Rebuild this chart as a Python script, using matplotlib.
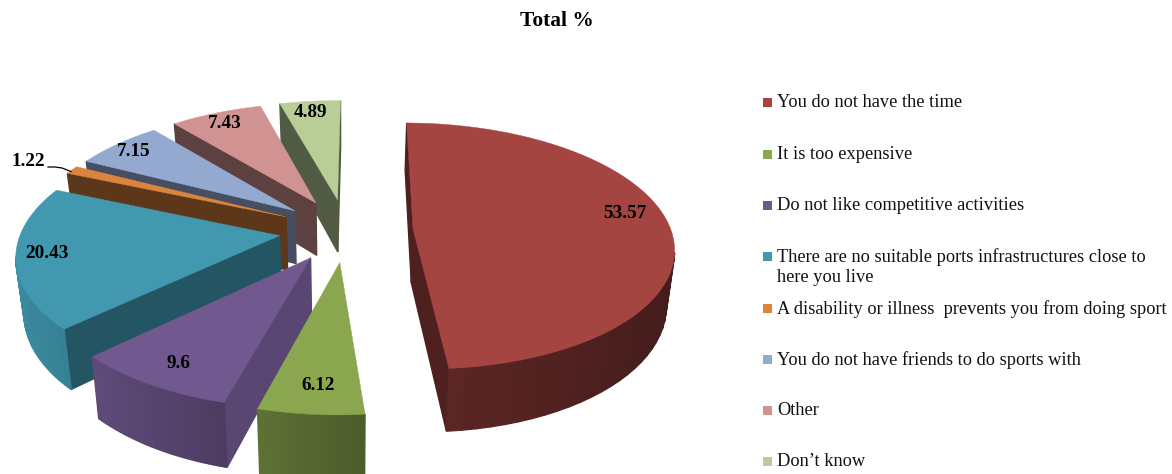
import numpy as np
import matplotlib
matplotlib.use("Agg")
import matplotlib.pyplot as plt
from matplotlib.colors import to_rgb
from matplotlib.patches import Polygon, Rectangle

plt.rcParams['font.family'] = ['Liberation Serif', 'DejaVu Serif']

labels = ["You do not have the time", "It is too expensive", "Do not like competitive activities",
          "There are no suitable ports infrastructures close to\nhere you live",
          "A disability or illness  prevents you from doing sport",
          "You do not have friends to do sports with", "Other", "Don\u2019t know"]
values = [53.57, 6.12, 9.6, 20.43, 1.22, 7.15, 7.43, 4.89]
value_text = ["53.57", "6.12", "9.6", "20.43", "1.22", "7.15", "7.43", "4.89"]
colors = ["#A54542", "#8AA64E", "#71588F", "#4198AF", "#DB843D", "#93A9CF", "#D19392", "#B9CD96"]

# how dark the straight cut side of each slice is
cut_shade = [0.47, 0.6, 0.8, 0.56, 0.42, 0.47, 0.44, 0.44]
# back slices first so the nearer ones cover them
draw_order = [7, 6, 5, 4, 3, 0, 2, 1]

value_xy = [(625, 213), (318, 385), (178, 364), (47, 254), (28, 161), (134, 151), (225, 123), (311, 112)]
legend_y = [102, 154, 205, 256, 308, 359, 410, 461]

CX, CY = 346, 230     # pie centre
RX, RY = 258, 121     # squashed radius
PERSP = 0.14
DEPTH = 54
BOTTOM_X = 0.975      # lower rim pulls in a little towards the centre

fig = plt.figure(figsize=(11.72, 4.74), dpi=100)
ax = fig.add_axes([0, 0, 1, 1])
ax.set_xlim(0, 1172)
ax.set_ylim(474, 0)
ax.axis("off")

# the flat pie gives the angles and exploded centres
pie_ax = fig.add_axes([0, 0, 0.1, 0.1])
wedges, _ = pie_ax.pie(values, explode=[0.26] * len(values), startangle=89.5, counterclock=False)
pie_ax.set_visible(False)


def project(x, y, z=0.0):
    p = 1 / (1 + PERSP * y)
    sx = x * RX * p * (BOTTOM_X if z else 1)
    return CX + sx, CY + p * (-y * RY + z * DEPTH)


def arc_shade(theta):
    n = np.cos(np.radians(theta))
    return np.interp(n, [-1, -0.7, -0.26, 0.05, 0.87, 1], [0.92, 0.84, 0.68, 0.56, 0.42, 0.42])


def darker(col, k):
    return tuple(c * k for c in to_rgb(col))


for i in draw_order:
    w = wedges[i]
    c0x, c0y = w.center
    th = np.linspace(w.theta2, w.theta1, 60)   # clockwise round the rim
    xs = c0x + w.r * np.cos(np.radians(th))
    ys = c0y + w.r * np.sin(np.radians(th))

    # ring: apex -> rim -> back to apex
    px = np.r_[c0x, xs, c0x]
    py = np.r_[c0y, ys, c0y]
    tx, ty = project(px, py)
    bx, by = project(px, py, 1.0)
    mid = np.r_[np.nan, (th[:-1] + th[1:]) / 2, np.nan]

    faces = []
    for j in range(len(px) - 1):
        if tx[j + 1] - tx[j] >= 0:
            continue   # faces away, hidden behind the slice
        quad = [(tx[j], ty[j]), (tx[j + 1], ty[j + 1]), (bx[j + 1], by[j + 1]), (bx[j], by[j])]
        straight = j == 0 or j == len(px) - 2
        k = cut_shade[i] if straight else arc_shade(mid[j])
        faces.append((straight, quad, k))
    # cut sides go first, the rim wall sits in front of them
    faces.sort(key=lambda f: not f[0])
    for straight, quad, k in faces:
        col = darker(colors[i], k)
        ax.add_patch(Polygon(quad, closed=True, facecolor=col, edgecolor=col, linewidth=1.0))

    ax.add_patch(Polygon(np.c_[tx, ty], closed=True, facecolor=colors[i], edgecolor=colors[i], linewidth=0.3))

for (lx, ly), s in zip(value_xy, value_text):
    ax.text(lx, ly, s, ha="center", va="center", fontsize=13.8, fontweight="bold", color="black")

# leader for the thin slice
ax.plot([48, 55, 62, 71], [167, 167, 168, 171.5], color="black", linewidth=0.9)

ax.text(557, 21, "Total %", ha="center", va="center", fontsize=15.4, fontweight="bold", color="black")

for y, s, col in zip(legend_y, labels, colors):
    ax.add_patch(Rectangle((763, y - 4.5), 9, 9, facecolor=col, edgecolor="none"))
    ax.text(777, y - 8, s, ha="left", va="top", fontsize=13.2, color="#111111", linespacing=1.22)

fig.savefig("out.png", dpi=100)
